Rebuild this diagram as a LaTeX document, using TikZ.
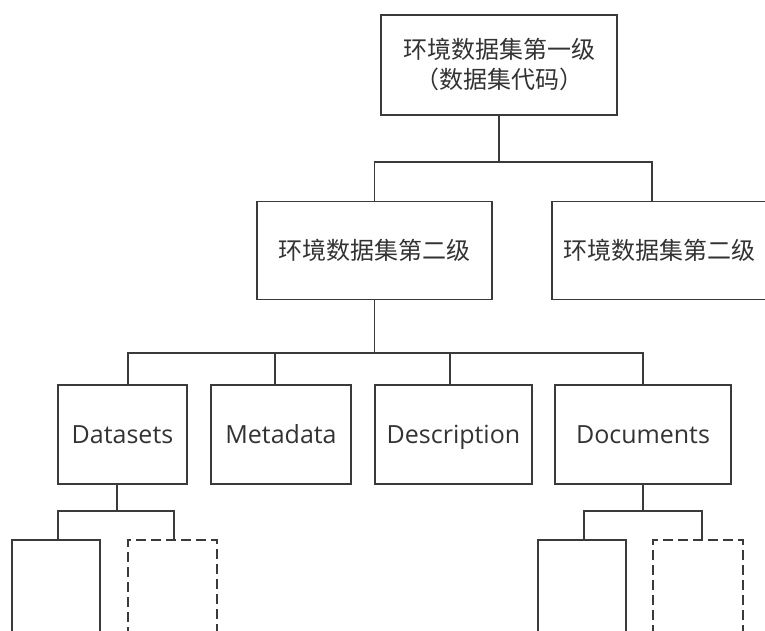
\documentclass[tikz,border=0pt]{standalone}
\usepackage{fontspec}
\setmainfont{Open Sans}
\newfontfamily\cjk{Noto Sans CJK SC}
\definecolor{linec}{HTML}{3A3A3A}
\definecolor{textc}{HTML}{333333}
\tikzset{
  box/.style={draw=linec, line width=1.6pt, inner sep=0pt, text=textc, align=center},
  dbox/.style={box, dash pattern=on 10pt off 5pt},
  cjkbox/.style={box, font=\cjk\fontsize{24}{30}\selectfont},
  enbox/.style={box, font=\fontsize{25}{30}\selectfont, text height=24pt, text depth=6pt},
  conn/.style={draw=linec, line width=1.6pt}
}
\begin{document}
\begin{tikzpicture}[x=1pt,y=-1pt]
\useasboundingbox (0,0) rectangle (765,631);
\clip (0,0) rectangle (765,631);
% level 1
\node[cjkbox, minimum width=236pt, minimum height=100pt] (top) at (499,65) {环境数据集第一级\\（数据集代码）};
% level 2
\node[cjkbox, minimum width=235pt, minimum height=98pt] (l2l) at (374.5,250.5) {环境数据集第二级};
\node[cjkbox, minimum width=215pt, minimum height=98pt] (l2r) at (659.5,250.5) {环境数据集第二级};
% level 3
\node[enbox, minimum width=129pt, minimum height=99pt] (ds) at (122.5,434.5) {Datasets};
\node[enbox, minimum width=140pt, minimum height=99pt] (md) at (281,434.5) {Metadata};
\node[enbox, minimum width=157pt, minimum height=99pt] (de) at (453.5,434.5) {Description};
\node[enbox, minimum width=176pt, minimum height=99pt] (do) at (643,434.5) {Documents};
% level 4
\node[box, minimum width=88pt, minimum height=110pt] (a1) at (56,595) {};
\node[dbox, minimum width=89pt, minimum height=110pt] (a2) at (172.5,595) {};
\node[box, minimum width=88pt, minimum height=110pt] (c1) at (582,595) {};
\node[dbox, minimum width=90pt, minimum height=110pt] (c2) at (698,595) {};
% bus coordinates
\coordinate (b1) at (0,162);
\coordinate (b2) at (0,353);
\coordinate (b3) at (0,511);
\coordinate (r2in) at ([xshift=-7.5pt]l2r.north);
\coordinate (dsin) at ([xshift=5.5pt]ds.north);
\coordinate (mdin) at ([xshift=-6pt]md.north);
\coordinate (dein) at ([xshift=-3.5pt]de.north);
\coordinate (dsout) at ([xshift=-5.5pt]ds.south);
\coordinate (a1in) at ([xshift=2pt]a1.north);
\coordinate (a2in) at ([xshift=1.5pt]a2.north);
\coordinate (c1in) at ([xshift=2pt]c1.north);
\coordinate (c2in) at ([xshift=4pt]c2.north);
% connectors
\draw[conn] (top.south) -- (top.south |- b1);
\draw[conn] (l2l.north) |- (r2in |- b1) -- (r2in);
\draw[conn] (l2l.south) -- (l2l.south |- b2);
\draw[conn] (dsin) |- (do.north |- b2) -- (do.north);
\draw[conn] (mdin) -- (mdin |- b2);
\draw[conn] (dein) -- (dein |- b2);
\draw[conn] (dsout) -- (dsout |- b3);
\draw[conn] (a1in) |- (a2in |- b3) -- (a2in);
\draw[conn] (do.south) -- (do.south |- b3);
\draw[conn] (c1in) |- (c2in |- b3) -- (c2in);
\end{tikzpicture}
\end{document}
